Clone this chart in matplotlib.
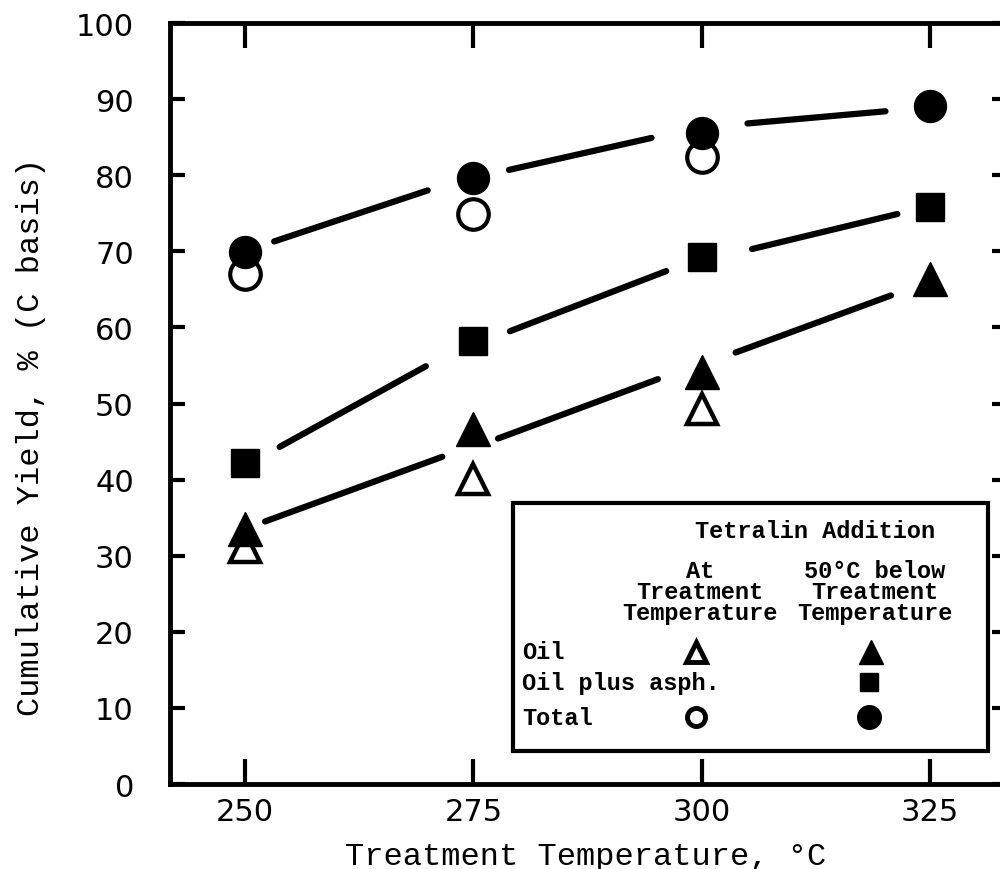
import matplotlib
matplotlib.use("Agg")
import matplotlib.pyplot as plt
from matplotlib.patches import Rectangle

# data
temps = [250, 275, 300, 325]
temps_at = [250, 275, 300]

oil_50 = [33.5, 46.6, 54.1, 66.3]
oil_at = [31.1, 40.1, 49.3]
asph_50 = [42.2, 58.2, 69.2, 75.8]
total_50 = [69.9, 79.6, 85.6, 89.1]
total_at = [67.0, 74.9, 82.4]

# hand-drawn curve pieces (broken at the markers)
oil_curve_x = [[252.2, 271.6], [277.7, 295.2], [303.7, 320.7]]
oil_curve_y = [[34.5, 43.0], [45.4, 53.2], [56.7, 64.2]]
asph_curve_x = [[253.8, 269.8], [279.0, 296.1], [305.5, 321.4]]
asph_curve_y = [[44.3, 54.9], [59.5, 67.4], [70.3, 74.9]]
total_curve_x = [[253.2, 270.0], [278.9, 294.5], [305.0, 320.1]]
total_curve_y = [[71.3, 78.0], [80.7, 84.9], [86.8, 88.4]]

yticks = [0, 10, 20, 30, 40, 50, 60, 70, 80, 90, 100]

mono = "Liberation Mono"

fig = plt.figure(figsize=(10, 8.7), dpi=100)
ax = fig.add_axes([0.17, 0.0977, 0.837, 0.8747])

for xs_list, ys_list in [(oil_curve_x, oil_curve_y), (asph_curve_x, asph_curve_y),
                         (total_curve_x, total_curve_y)]:
    for xs, ys in zip(xs_list, ys_list):
        ax.plot(xs, ys, color="black", lw=4.5, solid_capstyle="round", zorder=2)

# open markers first, filled on top
ax.plot(temps_at, total_at, "o", ms=22, mfc="white", mec="black", mew=3, ls="none", zorder=3)
ax.plot(temps_at, oil_at, "^", ms=22, mfc="white", mec="black", mew=3.2, ls="none", zorder=3)
ax.plot(temps, total_50, "o", ms=23, color="black", ls="none", zorder=4)
ax.plot(temps, asph_50, "s", ms=20, color="black", ls="none", zorder=4)
ax.plot(temps, oil_50, "^", ms=24, color="black", ls="none", zorder=4)

ax.set_xlim(241.8, 333.4)
ax.set_ylim(0, 100)
ax.set_xticks(temps)
ax.set_yticks(yticks)
ax.set_xticklabels([str(t) for t in temps], fontsize=22, family="DejaVu Sans")
ax.set_yticklabels([str(t) for t in yticks], fontsize=22, family="DejaVu Sans")
ax.tick_params(axis="y", direction="in", length=11, width=3, pad=26, right=True)
ax.tick_params(axis="x", direction="in", length=18, width=3, pad=9, top=True)
for s in ax.spines.values():
    s.set_linewidth(3.5)

fig.text(0.586, 5 / 870, "Treatment Temperature, °C", family=mono, fontsize=23,
         ha="center", va="baseline")
fig.text(0.031, 1 - 437 / 870, "Cumulative Yield, % (C basis)", family=mono, fontsize=23,
         rotation=90, ha="center", va="center")

# legend box drawn by hand
ax.add_patch(Rectangle((0.41, 0.0434), 0.567, 0.3256, transform=ax.transAxes,
                       fill=False, lw=3, edgecolor="black", zorder=5, clip_on=False))
lkw = dict(transform=ax.transAxes, family=mono, fontsize=17, fontweight="bold", zorder=6)
ax.text(0.771, 0.3325, "Tetralin Addition", ha="center", va="center", **lkw)
col1, col2 = 0.633, 0.842
for txt_a, txt_b, yy in [("At", "50°C below", 0.281), ("Treatment", "Treatment", 0.2536),
                         ("Temperature", "Temperature", 0.226)]:
    ax.text(col1, yy, txt_a, ha="center", va="center", **lkw)
    ax.text(col2, yy, txt_b, ha="center", va="center", **lkw)
rows = ["Oil", "Oil plus asph.", "Total"]
row_y = [0.1735, 0.134, 0.088]
for name, yy in zip(rows, row_y):
    ax.text(0.4205, yy, name, ha="left", va="center", **lkw)

mk = dict(transform=ax.transAxes, ls="none", zorder=6, clip_on=False)
ax.plot([col1 - 0.004], [row_y[0]], "^", ms=15, mfc="white", mec="black", mew=3.5, **mk)
ax.plot([col2 - 0.005], [row_y[0]], "^", ms=17, color="black", **mk)
ax.plot([col2 - 0.007], [row_y[1]], "s", ms=13, color="black", **mk)
ax.plot([col1 - 0.004], [row_y[2]], "o", ms=13, mfc="white", mec="black", mew=3.5, **mk)
ax.plot([col2 - 0.007], [row_y[2]], "o", ms=17, color="black", **mk)

fig.savefig("out.png", dpi=100)
